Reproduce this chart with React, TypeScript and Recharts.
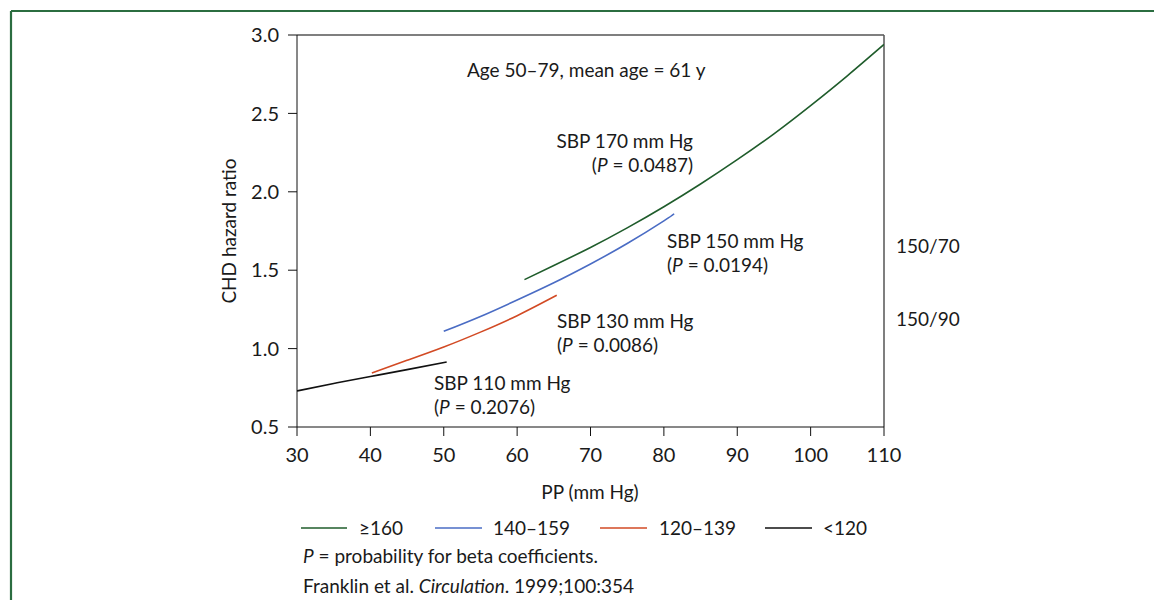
import React from 'react';
import { LineChart, Line, XAxis, YAxis, ReferenceLine } from 'recharts';

const xTicks = [30, 40, 50, 60, 70, 80, 90, 100, 110];
const yTicks = [0.5, 1.0, 1.5, 2.0, 2.5, 3.0];

const sbp160 = [
  { pp: 61, hr: 1.44 }, { pp: 65, hr: 1.53 }, { pp: 70, hr: 1.645 }, { pp: 75, hr: 1.77 },
  { pp: 80, hr: 1.905 }, { pp: 85, hr: 2.05 }, { pp: 90, hr: 2.205 }, { pp: 95, hr: 2.37 },
  { pp: 100, hr: 2.55 }, { pp: 105, hr: 2.74 }, { pp: 110, hr: 2.94 },
];
const sbp140 = [
  { pp: 50, hr: 1.11 }, { pp: 55, hr: 1.205 }, { pp: 60, hr: 1.31 }, { pp: 65, hr: 1.42 },
  { pp: 70, hr: 1.54 }, { pp: 75, hr: 1.67 }, { pp: 80, hr: 1.815 }, { pp: 81.4, hr: 1.86 },
];
const sbp120 = [
  { pp: 40.2, hr: 0.845 }, { pp: 45, hr: 0.925 }, { pp: 50, hr: 1.01 }, { pp: 55, hr: 1.105 },
  { pp: 60, hr: 1.21 }, { pp: 65.4, hr: 1.34 },
];
const sbpLow = [
  { pp: 30, hr: 0.73 }, { pp: 35, hr: 0.778 }, { pp: 40, hr: 0.822 }, { pp: 45, hr: 0.866 },
  { pp: 50.4, hr: 0.915 },
];

const legendItems = [
  { label: '≥160', color: '#1f5c2b', x1: 301, x2: 347, tx: 359 },
  { label: '140–159', color: '#4a6cc4', x1: 435, x2: 482, tx: 493 },
  { label: '120–139', color: '#d24a24', x1: 600, x2: 647, tx: 659 },
  { label: '<120', color: '#111111', x1: 765, x2: 812, tx: 823 },
];

const FONT = 'Lato, "Open Sans", sans-serif';
const FS = 19;
const TXT = '#1a1a1a';

export default function App() {
  return (
    <div style={{ position: 'absolute', left: 0, top: 0, width: 1154, height: 600, background: '#fff', fontFamily: FONT }}>
      <LineChart
        width={1154}
        height={600}
        margin={{ top: 35, right: 270, bottom: 143, left: 237 }}
      >
        <XAxis
          type="number"
          dataKey="pp"
          domain={[30, 110]}
          ticks={xTicks}
          allowDataOverflow
          height={30}
          tickSize={9}
          tickMargin={12}
          stroke="#111"
          tick={{ fill: TXT, fontSize: 20, fontFamily: FONT }}
          tickLine={{ stroke: '#111' }}
        />
        <YAxis
          type="number"
          dataKey="hr"
          domain={[0.5, 3]}
          ticks={yTicks}
          allowDataOverflow
          width={60}
          tickSize={9}
          tickMargin={9}
          stroke="#111"
          tickFormatter={(v: number) => v.toFixed(1)}
          tick={{ fill: TXT, fontSize: 20, fontFamily: FONT }}
          tickLine={{ stroke: '#111' }}
        />
        <ReferenceLine y={3} stroke="#555" strokeWidth={1.5} />
        <ReferenceLine x={110} stroke="#555" strokeWidth={1.5} />
        <Line data={sbp160} dataKey="hr" type="natural" stroke="#1f5c2b" strokeWidth={1.6} dot={false} isAnimationActive={false} />
        <Line data={sbp140} dataKey="hr" type="natural" stroke="#4a6cc4" strokeWidth={1.6} dot={false} isAnimationActive={false} />
        <Line data={sbp120} dataKey="hr" type="natural" stroke="#d24a24" strokeWidth={1.6} dot={false} isAnimationActive={false} />
        <Line data={sbpLow} dataKey="hr" type="natural" stroke="#111111" strokeWidth={1.6} dot={false} isAnimationActive={false} />
      </LineChart>
      <svg width={1154} height={600} style={{ position: 'absolute', left: 0, top: 0, pointerEvents: 'none' }} fontFamily={FONT} fontSize={FS} fill={TXT}>
        <line x1={11} y1={11} x2={1154} y2={11} stroke="#2b6d40" strokeWidth={2.2} />
        <line x1={11} y1={11} x2={11} y2={600} stroke="#2b6d40" strokeWidth={2.2} />

        <text x={467} y={77}>Age 50–79, mean age = 61 y</text>

        <text x={693} y={148} textAnchor="end">SBP 170 mm Hg</text>
        <text x={693} y={172} textAnchor="end">(<tspan fontStyle="italic">P</tspan> = 0.0487)</text>

        <text x={667} y={248}>SBP 150 mm Hg</text>
        <text x={667} y={272}>(<tspan fontStyle="italic">P</tspan> = 0.0194)</text>

        <text x={557} y={328}>SBP 130 mm Hg</text>
        <text x={557} y={352}>(<tspan fontStyle="italic">P</tspan> = 0.0086)</text>

        <text x={434} y={390}>SBP 110 mm Hg</text>
        <text x={434} y={414}>(<tspan fontStyle="italic">P</tspan> = 0.2076)</text>

        <text x={896} y={253}>150/70</text>
        <text x={896} y={326}>150/90</text>

        <text x={590} y={499} textAnchor="middle">PP (mm Hg)</text>
        <text x={236} y={231} textAnchor="middle" transform="rotate(-90 236 231)">CHD hazard ratio</text>

        {legendItems.map((it) => (
          <g key={it.label}>
            <line x1={it.x1} y1={528} x2={it.x2} y2={528} stroke={it.color} strokeWidth={1.6} />
            <text x={it.tx} y={535}>{it.label}</text>
          </g>
        ))}

        <text x={303} y={563}><tspan fontStyle="italic">P</tspan> = probability for beta coefficients.</text>
        <text x={303} y={593}>Franklin et al. <tspan fontStyle="italic">Circulation</tspan>. 1999;100:354</text>
      </svg>
    </div>
  );
}
